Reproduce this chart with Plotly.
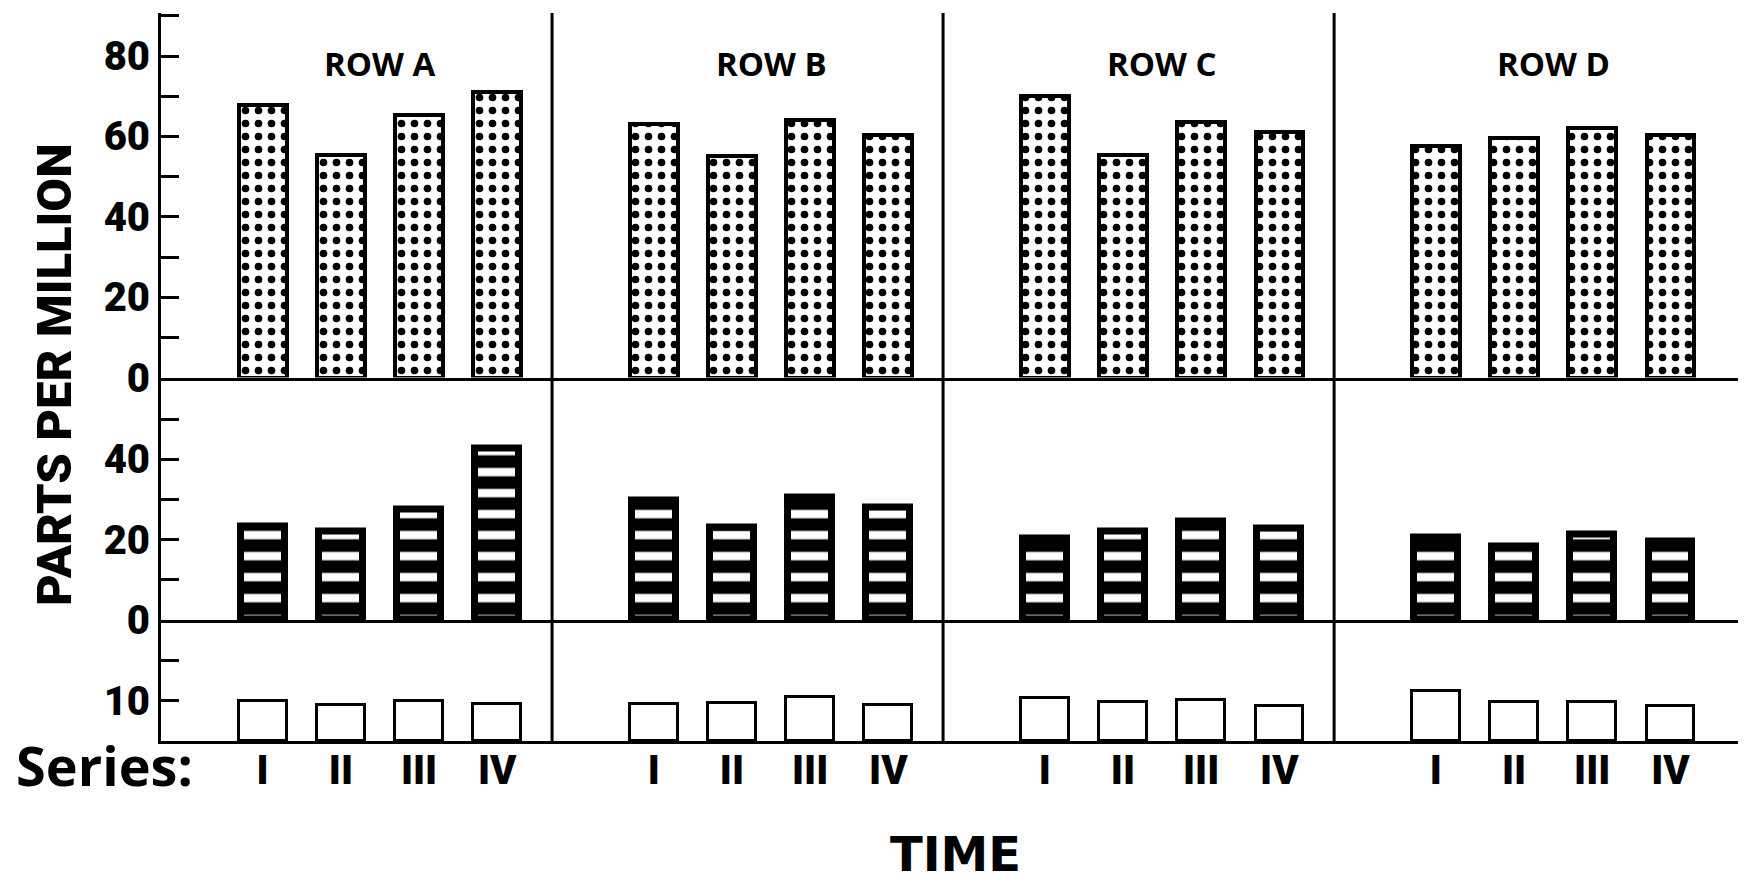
import plotly.graph_objects as go
from plotly.subplots import make_subplots

# ---- data ----
groups = ["ROW A", "ROW B", "ROW C", "ROW D"]
series = ["I", "II", "III", "IV"]

# top panel (dotted bars), one list per row group
dotted_a = [67.7, 55.5, 65.4, 71.0]
dotted_b = [63.0, 55.2, 64.1, 60.3]
dotted_c = [70.1, 55.5, 63.6, 61.0]
dotted_d = [57.5, 59.7, 62.0, 60.3]

# middle panel (striped bars)
striped_a = [23.3, 22.1, 27.4, 42.7]
striped_b = [29.8, 23.1, 30.5, 28.0]
striped_c = [20.2, 22.1, 24.4, 22.7]
striped_d = [20.6, 18.3, 21.2, 19.4]

# bottom panel (open bars)
open_a = [9.9, 9.0, 9.9, 9.2]
open_b = [9.3, 9.4, 10.9, 8.9]
open_c = [10.6, 9.7, 10.1, 8.8]
open_d = [12.4, 9.6, 9.6, 8.6]

top_ticks = [0, 10, 20, 30, 40, 50, 60, 70, 80, 90]
top_ticktext = ["0", "", "20", "", "40", "", "60", "", "80", ""]
mid_ticks = [0, 10, 20, 30, 40, 50]
mid_ticktext = ["0", "", "20", "", "40", ""]
bot_ticks = [10, 20]
bot_ticktext = ["10", ""]

dotted = [dotted_a, dotted_b, dotted_c, dotted_d]
striped = [striped_a, striped_b, striped_c, striped_d]
opened = [open_a, open_b, open_c, open_d]

# ---- layout helpers ----
GROUP_SPAN = 5.0
FIRST_OFFSET = 1.3
BAR_W_THIN = 0.61     # bars with thin outline
BAR_W_STRIPE = 0.56   # striped bars have a thick outline
X_MAX = 20.19
Y_TOP = 90.7
Y_MID = 60.3
Y_BOT = 30.1

HEAVY = "Roboto, Lato, DejaVu Sans, sans-serif"
GOTH = "Open Sans, DejaVu Sans, sans-serif"


def positions():
    xs = []
    for g in range(len(groups)):
        for i in range(len(series)):
            xs.append(g * GROUP_SPAN + FIRST_OFFSET + i)
    return xs


def flat(lists):
    return [v for lst in lists for v in lst]


xs = positions()
labels = [s for _ in groups for s in series]

fig = make_subplots(rows=3, cols=1, shared_xaxes=True, vertical_spacing=0,
                    row_heights=[Y_TOP, Y_MID, Y_BOT])

fig.add_trace(go.Bar(
    x=xs, y=flat(dotted), width=BAR_W_THIN,
    marker=dict(color="white", line=dict(color="black", width=4),
                pattern=dict(shape=".", fgcolor="black", bgcolor="white",
                             size=13, solidity=0.27, fillmode="replace")),
    showlegend=False, hoverinfo="y"), row=1, col=1)

fig.add_trace(go.Bar(
    x=xs, y=flat(striped), width=BAR_W_STRIPE,
    marker=dict(color="black", line=dict(color="black", width=7),
                pattern=dict(shape="-", fgcolor="white", bgcolor="black",
                             size=21, solidity=0.4, fillmode="replace")),
    showlegend=False, hoverinfo="y"), row=2, col=1)

fig.add_trace(go.Bar(
    x=xs, y=flat(opened), width=BAR_W_THIN,
    marker=dict(color="white", line=dict(color="black", width=3)),
    showlegend=False, hoverinfo="y"), row=3, col=1)

axis_common = dict(showline=True, linecolor="black", linewidth=3,
                   showgrid=False, zeroline=False)

for r in (1, 2, 3):
    fig.update_xaxes(range=[0, X_MAX], ticks="", **axis_common, row=r, col=1)

fig.update_xaxes(tickvals=xs, ticktext=labels, ticklabelstandoff=-8,
                 tickfont=dict(family=HEAVY, size=40, color="black", weight=900),
                 row=3, col=1)

ytick = dict(ticks="inside", ticklen=18, tickwidth=3, tickcolor="black",
             tickfont=dict(family=HEAVY, size=40, color="black", weight=900))
fig.update_yaxes(range=[0, Y_TOP], tickvals=top_ticks, ticktext=top_ticktext,
                 **ytick, **axis_common, row=1, col=1)
fig.update_yaxes(range=[0, Y_MID], tickvals=mid_ticks, ticktext=mid_ticktext,
                 **ytick, **axis_common, row=2, col=1)
fig.update_yaxes(range=[0, Y_BOT], tickvals=bot_ticks, ticktext=bot_ticktext,
                 **ytick, **axis_common, row=3, col=1)

# group dividers
for g in range(1, len(groups)):
    fig.add_shape(type="line", xref="x", yref="paper",
                  x0=g * GROUP_SPAN, x1=g * GROUP_SPAN, y0=0, y1=1,
                  line=dict(color="black", width=3))

# group titles
for g, name in enumerate(groups):
    fig.add_annotation(x=g * GROUP_SPAN + FIRST_OFFSET + 1.5, y=0.9306,
                       xref="x", yref="paper", text=name, showarrow=False,
                       xanchor="center", yanchor="middle",
                       font=dict(family=GOTH, size=33, color="black", weight="bold"))

fig.add_annotation(x=-0.067, y=0.503, xref="paper", yref="paper",
                   text="PARTS PER MILLION", textangle=-90, showarrow=False,
                   xanchor="center", yanchor="middle",
                   font=dict(family=HEAVY, size=49, color="black", weight=900))

fig.add_annotation(x=-0.0355, y=-0.033, xref="paper", yref="paper",
                   text="Series:", showarrow=False,
                   xanchor="center", yanchor="middle",
                   font=dict(family=GOTH, size=54, color="black", weight="bold"))

fig.add_annotation(x=0.503, y=-0.155, xref="paper", yref="paper",
                   text="TIME", showarrow=False,
                   xanchor="center", yanchor="middle",
                   font=dict(family="DejaVu Sans, sans-serif", size=48, color="black", weight="bold"))

# the page body adds an 8px margin; shrink the figure so the plot lands where intended
fig.update_layout(width=1738, height=874, plot_bgcolor="white", paper_bgcolor="white",
                  margin=dict(l=153, r=6, t=5, b=141), bargap=0)

fig.write_html("out.html")
